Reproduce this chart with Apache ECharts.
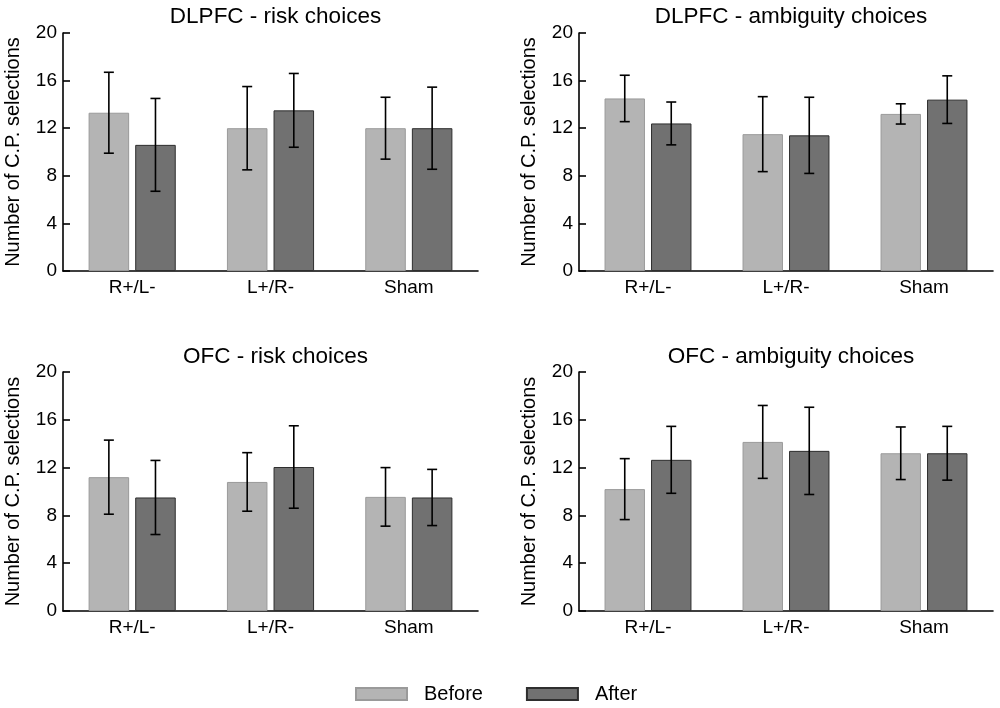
<!DOCTYPE html>
<html>
<head>
<meta charset="utf-8">
<script src="https://cdn.jsdelivr.net/npm/echarts@6/dist/echarts.min.js"></script>
<style>
  html, body { margin: 0; padding: 0; background: #fff; }
  #chart { width: 1000px; height: 708px; }
</style>
</head>
<body>
<div id="chart"></div>
<script>
	// categories and panels
	var groups = ['R+/L-', 'L+/R-', 'Sham'];
	var panelTitles = ['DLPFC - risk choices', 'DLPFC - ambiguity choices', 'OFC - risk choices', 'OFC - ambiguity choices'];
	var yTicks = [0, 4, 8, 12, 16, 20];

	// DLPFC risk
	var dlpfcRiskBefore = [13.3, 12.0, 12.0];
	var dlpfcRiskBeforeSd = [3.4, 3.5, 2.6];
	var dlpfcRiskAfter = [10.6, 13.5, 12.0];
	var dlpfcRiskAfterSd = [3.9, 3.1, 3.45];

	// DLPFC ambiguity
	var dlpfcAmbBefore = [14.5, 11.5, 13.2];
	var dlpfcAmbBeforeSd = [1.95, 3.15, 0.85];
	var dlpfcAmbAfter = [12.4, 11.4, 14.4];
	var dlpfcAmbAfterSd = [1.8, 3.2, 2.0];

	// OFC risk
	var ofcRiskBefore = [11.2, 10.8, 9.55];
	var ofcRiskBeforeSd = [3.1, 2.45, 2.45];
	var ofcRiskAfter = [9.5, 12.05, 9.5];
	var ofcRiskAfterSd = [3.1, 3.45, 2.35];

	// OFC ambiguity
	var ofcAmbBefore = [10.2, 14.15, 13.2];
	var ofcAmbBeforeSd = [2.55, 3.05, 2.2];
	var ofcAmbAfter = [12.65, 13.4, 13.2];
	var ofcAmbAfterSd = [2.8, 3.65, 2.25];

	var FONT = "'Liberation Sans', Arial, sans-serif";
	var BAR_RATIO = 0.293;   // bar width / category band
	var GAP_RATIO = 0.15;    // gap between the two bars / bar width

	var panels = [
		{ before: dlpfcRiskBefore, beforeSd: dlpfcRiskBeforeSd, after: dlpfcRiskAfter, afterSd: dlpfcRiskAfterSd },
		{ before: dlpfcAmbBefore, beforeSd: dlpfcAmbBeforeSd, after: dlpfcAmbAfter, afterSd: dlpfcAmbAfterSd },
		{ before: ofcRiskBefore, beforeSd: ofcRiskBeforeSd, after: ofcRiskAfter, afterSd: ofcRiskAfterSd },
		{ before: ofcAmbBefore, beforeSd: ofcAmbBeforeSd, after: ofcAmbAfter, afterSd: ofcAmbAfterSd }
	];

	var gridBoxes = [
		{ left: 63, top: 33, width: 415, height: 238 },
		{ left: 579, top: 33, width: 414, height: 238 },
		{ left: 63, top: 372, width: 415, height: 239 },
		{ left: 579, top: 372, width: 414, height: 239 }
	];

	function errData(means, sds) {
		var out = [];
		for (var i = 0; i < means.length; i++) {
			out.push([i, means[i] - sds[i], means[i] + sds[i]]);
		}
		return out;
	}

	// error bar drawn as a custom series, shifted onto its bar
	function errRenderer(side) {
		return function(params, api) {
			var x = api.value(0);
			var lo = api.coord([x, api.value(1)]);
			var hi = api.coord([x, api.value(2)]);
			var band = api.size([1, 0])[0];
			var bw = band * BAR_RATIO;
			var cx = lo[0] + side * bw * (1 + GAP_RATIO) / 2;
			var cap = 5;
			var st = { stroke: '#000', lineWidth: 1.6 };
			return {
				type: 'group',
				children: [
					{ type: 'line', shape: { x1: cx, y1: lo[1], x2: cx, y2: hi[1] }, style: st },
					{ type: 'line', shape: { x1: cx - cap, y1: lo[1], x2: cx + cap, y2: lo[1] }, style: st },
					{ type: 'line', shape: { x1: cx - cap, y1: hi[1], x2: cx + cap, y2: hi[1] }, style: st }
				]
			};
		};
	}

	var titles = [], grids = [], xAxes = [], yAxes = [], series = [];

	panels.forEach(function(p, i) {
		var g = gridBoxes[i];
		grids.push(g);
		titles.push({
			text: panelTitles[i],
			left: g.left + g.width / 2,
			top: (i < 2 ? 0 : 340),
			textAlign: 'center',
			textStyle: { fontFamily: FONT, fontSize: 22.5, fontWeight: 'normal', color: '#000' }
		});
		xAxes.push({
			type: 'category',
			gridIndex: i,
			data: groups,
			axisTick: { show: false },
			axisLine: { lineStyle: { color: '#000', width: 1.6 } },
			axisLabel: { color: '#000', fontFamily: FONT, fontSize: 19, margin: 7 }
		});
		yAxes.push({
			type: 'value',
			gridIndex: i,
			min: yTicks[0],
			max: yTicks[yTicks.length - 1],
			interval: 4,
			name: 'Number of C.P. selections',
			nameLocation: 'middle',
			nameGap: 40,
			nameTextStyle: { fontFamily: FONT, fontSize: 20, color: '#000' },
			splitLine: { show: false },
			axisLine: { show: true, lineStyle: { color: '#000', width: 1.6 } },
			axisTick: { show: true, inside: true, length: 7, lineStyle: { color: '#000', width: 1.6 } },
			axisLabel: { color: '#000', fontFamily: FONT, fontSize: 19, margin: 6 }
		});
		series.push({
			name: 'Before',
			type: 'bar',
			xAxisIndex: i,
			yAxisIndex: i,
			data: p.before,
			barWidth: (BAR_RATIO * 100) + '%',
			barGap: (GAP_RATIO * 100) + '%',
			itemStyle: { color: '#b4b4b4', borderColor: '#9a9a9a', borderWidth: 1 }
		});
		series.push({
			name: 'After',
			type: 'bar',
			xAxisIndex: i,
			yAxisIndex: i,
			data: p.after,
			barWidth: (BAR_RATIO * 100) + '%',
			barGap: (GAP_RATIO * 100) + '%',
			itemStyle: { color: '#717171', borderColor: '#2e2e2e', borderWidth: 1 }
		});
		series.push({
			type: 'custom',
			xAxisIndex: i,
			yAxisIndex: i,
			data: errData(p.before, p.beforeSd),
			renderItem: errRenderer(-1),
			z: 10,
			silent: true
		});
		series.push({
			type: 'custom',
			xAxisIndex: i,
			yAxisIndex: i,
			data: errData(p.after, p.afterSd),
			renderItem: errRenderer(1),
			z: 10,
			silent: true
		});
	});

	var chart = echarts.init(document.getElementById('chart'));
	chart.setOption({
		backgroundColor: '#fff',
		animation: false,
		title: titles,
		grid: grids,
		xAxis: xAxes,
		yAxis: yAxes,
		legend: {
			data: ['Before', 'After'],
			left: 350,
			top: 679,
			icon: 'rect',
			itemWidth: 51,
			itemHeight: 12,
			itemGap: 43,
			textStyle: { fontFamily: FONT, fontSize: 20, color: '#000', padding: [0, 0, 0, 12] }
		},
		series: series
	});
</script>
</body>
</html>
